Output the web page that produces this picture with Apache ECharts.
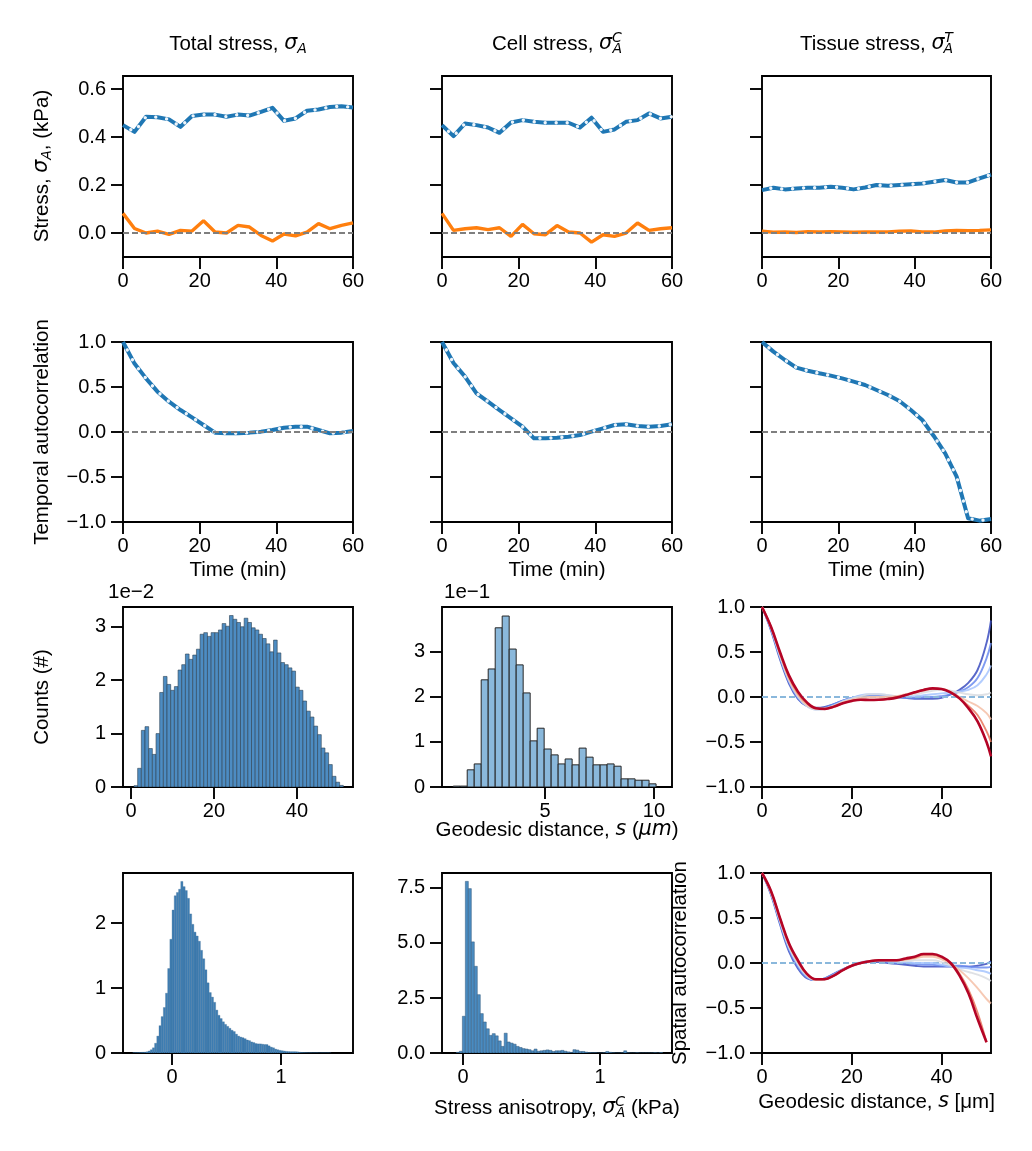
<!DOCTYPE html>
<html><head><meta charset="utf-8">
<script src="https://cdn.jsdelivr.net/npm/echarts@6/dist/echarts.min.js"></script>
<style>html,body{margin:0;padding:0;background:#fff}#c{width:1032px;height:1151px}</style>
</head><body><div id="c"></div>
<script>
// ---------- DATA ----------
const time = [0,3,6,9,12,15,18,21,24,27,30,33,36,39,42,45,48,51,54,57,60];
const totalMean = [0.45,0.422,0.485,0.483,0.474,0.443,0.488,0.494,0.494,0.485,0.494,0.49,0.505,0.522,0.468,0.478,0.51,0.515,0.526,0.529,0.524];
const totalAniso = [0.082,0.019,0.0,0.008,-0.006,0.011,0.008,0.051,0.004,0.0,0.032,0.025,-0.01,-0.033,-0.004,-0.012,0.004,0.039,0.018,0.032,0.042];
const cellMean = [0.45,0.404,0.457,0.45,0.44,0.418,0.461,0.471,0.464,0.46,0.46,0.46,0.44,0.481,0.422,0.432,0.464,0.471,0.499,0.478,0.485];
const cellAniso = [0.082,0.011,0.018,0.022,0.014,0.022,-0.014,0.036,-0.003,-0.007,0.031,0.004,0.0,-0.038,-0.007,-0.014,0.0,0.042,0.011,0.018,0.022];
const tissueMean = [0.179,0.189,0.182,0.186,0.189,0.189,0.193,0.189,0.182,0.19,0.2,0.197,0.2,0.203,0.207,0.214,0.221,0.211,0.211,0.228,0.244];
const tissueAniso = [0.008,0.003,0.004,0.002,0.006,0.004,0.006,0.005,0.003,0.004,0.004,0.005,0.008,0.009,0.005,0.004,0.009,0.011,0.010,0.011,0.013];

const acTotal = [1.0,0.76,0.596,0.448,0.337,0.244,0.163,0.078,-0.007,-0.015,-0.015,-0.007,0.004,0.022,0.048,0.059,0.059,0.022,-0.015,-0.007,0.011];
const acCell = [1.0,0.767,0.615,0.43,0.337,0.244,0.152,0.059,-0.07,-0.07,-0.063,-0.052,-0.033,0.004,0.041,0.078,0.085,0.067,0.059,0.067,0.085];
const acTissue = [1.0,0.893,0.8,0.715,0.681,0.652,0.626,0.596,0.559,0.522,0.467,0.411,0.344,0.244,0.133,-0.044,-0.237,-0.496,-0.959,-0.985,-0.967];

// histogram (x 1e-2 scale)
const histAStart = 0.72, histAWidth = 0.885;
const histA = [0.025,0.35,1.06,1.13,0.72,0.61,1.0,1.77,2.07,1.92,1.81,1.88,2.19,2.29,2.49,2.39,2.47,2.58,2.86,2.89,2.82,2.89,2.89,2.94,3.06,3.01,3.21,3.14,3.08,3.0,3.16,3.08,2.98,2.94,2.86,2.78,2.68,2.53,2.75,2.51,2.33,2.29,2.23,2.17,1.87,1.81,1.61,1.42,1.31,1.14,0.98,0.73,0.64,0.42,0.2,0.09,0.03];
// geodesic distance histogram (x 1e-1 scale)
const histBStart = 0.79, histBWidth = 0.321;
const histB = [0.02,0.02,0.38,0.51,2.37,2.61,3.52,3.78,3.05,2.70,2.08,1.02,1.30,0.84,0.71,0.51,0.62,0.49,0.86,0.66,0.49,0.49,0.51,0.46,0.18,0.18,0.15,0.15,0.07];
// total stress anisotropy histogram
const histCStart = -0.36, histCWidth = 0.02;
const histC = [0.004,0.005,0.006,0.008,0.01,0.012,0.018,0.03,0.05,0.08,0.15,0.26,0.42,0.56,0.7,0.92,1.3,1.75,2.2,2.42,2.47,2.52,2.64,2.56,2.5,2.38,2.14,1.98,1.86,1.8,1.72,1.58,1.45,1.28,1.08,0.93,0.86,0.78,0.66,0.58,0.53,0.48,0.44,0.41,0.38,0.35,0.33,0.29,0.26,0.245,0.235,0.22,0.2,0.19,0.17,0.16,0.145,0.14,0.14,0.135,0.13,0.13,0.11,0.09,0.08,0.06,0.05,0.04,0.035,0.03,0.025,0.022,0.02,0.02,0.02,0.018,0.012,0.008,0.006,0.005,0.004,0.004,0.003,0.003,0.003,0.002,0.002,0.002,0.002,0.002,0.001];
// cell stress anisotropy histogram
const histDStart = -0.048, histDWidth = 0.0218;
const histD = [0.03,0.08,1.67,7.8,7.47,5.05,3.94,2.65,1.79,1.41,1.1,0.8,0.88,0.78,0.55,0.3,0.9,0.5,0.45,0.4,0.3,0.25,0.2,0.18,0.15,0.1,0.18,0.08,0.1,0.12,0.14,0.12,0.07,0.1,0.1,0.12,0.08,0.05,0.03,0.15,0.13,0.07,0.07,0.04,0.02,0.01,0.01,0,0,0.01,0.07,0.03,0.01,0,0,0.01,0.1,0.01,0,0,0.01,0,0,0,0,0,0.01,0,0.02];

// spatial autocorrelation vs geodesic distance
const geoDist = [0,2,4,6,8,10,12,14,16,18,20,22,24,26,28,30,32,34,36,38,40,42,44,46,48,50,51];
const spatialTotal = [
 [1.0,0.74,0.42,0.15,-0.02,-0.1,-0.12,-0.11,-0.08,-0.04,-0.01,0.01,0.02,0.02,0.01,0.0,-0.01,-0.02,-0.02,-0.02,-0.01,0.03,0.08,0.16,0.3,0.6,0.85],
 [1.0,0.75,0.44,0.17,-0.01,-0.1,-0.13,-0.12,-0.08,-0.04,-0.01,0.01,0.02,0.02,0.01,0.0,-0.01,-0.01,0.0,0.0,0.01,0.03,0.06,0.11,0.21,0.43,0.6],
 [1.0,0.76,0.45,0.18,0.0,-0.1,-0.14,-0.13,-0.09,-0.05,-0.01,0.02,0.03,0.03,0.02,0.01,0.01,0.01,0.02,0.03,0.04,0.05,0.06,0.08,0.13,0.25,0.35],
 [1.0,0.77,0.46,0.19,0.01,-0.1,-0.14,-0.13,-0.1,-0.05,-0.02,0.01,0.03,0.03,0.02,0.01,0.02,0.03,0.05,0.07,0.08,0.07,0.05,0.03,0.02,0.03,0.05],
 [1.0,0.78,0.48,0.2,0.02,-0.09,-0.13,-0.13,-0.1,-0.06,-0.03,-0.01,0.0,0.0,0.0,0.01,0.03,0.05,0.07,0.09,0.09,0.06,0.0,-0.05,-0.1,-0.18,-0.25],
 [1.0,0.78,0.49,0.22,0.04,-0.07,-0.12,-0.13,-0.11,-0.07,-0.04,-0.03,-0.03,-0.03,-0.02,0.0,0.02,0.05,0.08,0.09,0.09,0.05,-0.02,-0.1,-0.2,-0.38,-0.5],
 [1.0,0.78,0.5,0.24,0.06,-0.06,-0.126,-0.133,-0.107,-0.07,-0.044,-0.03,-0.033,-0.03,-0.022,-0.007,0.022,0.052,0.078,0.096,0.089,0.052,-0.015,-0.126,-0.27,-0.5,-0.66]
];
const spatialCell = [
 [1.0,0.76,0.43,0.13,-0.06,-0.17,-0.19,-0.17,-0.12,-0.07,-0.03,0.0,0.01,0.01,0.0,-0.01,-0.02,-0.03,-0.04,-0.04,-0.04,-0.04,-0.04,-0.04,-0.03,-0.01,0.02],
 [1.0,0.77,0.45,0.15,-0.04,-0.16,-0.19,-0.17,-0.12,-0.07,-0.03,0.0,0.02,0.02,0.01,0.0,0.0,-0.01,-0.02,-0.02,-0.03,-0.03,-0.03,-0.04,-0.05,-0.05,-0.04],
 [1.0,0.78,0.46,0.17,-0.02,-0.15,-0.19,-0.18,-0.13,-0.07,-0.03,0.01,0.02,0.03,0.02,0.01,0.01,0.0,0.0,0.0,-0.02,-0.04,-0.05,-0.06,-0.08,-0.1,-0.12],
 [1.0,0.78,0.47,0.18,-0.01,-0.14,-0.19,-0.18,-0.14,-0.08,-0.03,0.0,0.02,0.03,0.03,0.02,0.02,0.03,0.03,0.03,0.01,-0.03,-0.07,-0.1,-0.13,-0.17,-0.2],
 [1.0,0.79,0.49,0.2,0.01,-0.13,-0.19,-0.18,-0.14,-0.08,-0.03,0.0,0.02,0.03,0.03,0.03,0.04,0.05,0.07,0.07,0.04,-0.01,-0.08,-0.17,-0.28,-0.4,-0.45],
 [1.0,0.8,0.5,0.21,0.02,-0.12,-0.18,-0.18,-0.14,-0.08,-0.03,0.0,0.02,0.03,0.03,0.03,0.04,0.06,0.09,0.09,0.06,0.0,-0.12,-0.3,-0.55,-0.88,null],
 [1.0,0.8,0.5,0.22,0.03,-0.12,-0.18,-0.18,-0.14,-0.08,-0.03,0.0,0.02,0.03,0.03,0.03,0.05,0.07,0.1,0.1,0.07,0.0,-0.14,-0.34,-0.62,-0.88,null]
];
const curveColors = ['#3b4cc0','#6a8bef','#a6c4fe','#d9dce1','#f5c0a7','#e8765c','#b40426'];

// ---------- LAYOUT ----------
const colLeft = [123, 442, 762], colW = [230, 230, 229];
const rowTop = [76, 342, 607, 873], rowH = [181, 180, 180, 180];
const FONT = 'Liberation Sans';
const TICK = 20;

const grids = [], xAxes = [], yAxes = [], series = [];
function gi(r, c) { return r * 3 + c; }
for (let r = 0; r < 4; r++) for (let c = 0; c < 3; c++) {
  grids.push({left: colLeft[c], top: rowTop[r], width: colW[c], height: rowH[r], show: true,
    borderColor: '#000', borderWidth: 1.9, backgroundColor: 'transparent', containLabel: false, outerBoundsMode: 'none'});
}
const minus = v => String(v).replace('-', '\u2212');
function axis(kind, g, min, max, ticks, fmt, showLabel) {
  return {type: 'value', gridIndex: g, min, max, scale: true,
    axisLine: {show: false, onZero: false}, splitLine: {show: false},
    axisTick: {show: true, inside: false, length: 12, lineStyle: {color: '#000', width: 1.9}, customValues: ticks},
    axisLabel: {show: showLabel !== false, customValues: ticks, formatter: fmt, margin: kind === 'x' ? 14 : 17,
      color: '#000', fontSize: TICK, fontFamily: FONT}};
}
const f1 = v => minus(v.toFixed(1));
const f0 = v => minus(v.toFixed(0));
const timeTicks = [0, 20, 40, 60];
for (let c = 0; c < 3; c++) {
  xAxes.push(axis('x', gi(0, c), 0, 60, timeTicks, f0));
  yAxes.push(axis('y', gi(0, c), -0.1, 0.655, [0, 0.2, 0.4, 0.6], f1, c === 0));
}
for (let c = 0; c < 3; c++) {
  xAxes.push(axis('x', gi(1, c), 0, 60, timeTicks, f0));
  yAxes.push(axis('y', gi(1, c), -1, 1, [-1, -0.5, 0, 0.5, 1], f1, c === 0));
}
xAxes.push(axis('x', gi(2, 0), -1.93, 53.5, [0, 20, 40], f0));
yAxes.push(axis('y', gi(2, 0), 0, 3.37, [0, 1, 2, 3], f0));
xAxes.push(axis('x', gi(2, 1), 0.275, 10.83, [5, 10], f0));
yAxes.push(axis('y', gi(2, 1), 0, 3.98, [0, 1, 2, 3], f0));
xAxes.push(axis('x', gi(2, 2), 0, 51, [0, 20, 40], f0));
yAxes.push(axis('y', gi(2, 2), -1, 1, [-1, -0.5, 0, 0.5, 1], f1));
xAxes.push(axis('x', gi(3, 0), -0.45, 1.66, [0, 1], f0));
yAxes.push(axis('y', gi(3, 0), 0, 2.77, [0, 1, 2], f0));
xAxes.push(axis('x', gi(3, 1), -0.153, 1.525, [0, 1], f0));
yAxes.push(axis('y', gi(3, 1), 0, 8.18, [0, 2.5, 5, 7.5], f1));
xAxes.push(axis('x', gi(3, 2), 0, 51, [0, 20, 40], f0));
yAxes.push(axis('y', gi(3, 2), -1, 1, [-1, -0.5, 0, 0.5, 1], f1));

// ---------- SERIES ----------
function zeroLine(g, color) {
  series.push({type: 'line', xAxisIndex: g, yAxisIndex: g, data: [], z: 1, silent: true,
    markLine: {silent: true, symbol: 'none', label: {show: false}, animation: false,
      lineStyle: {color, type: [6, 3], width: 1.8}, data: [{yAxis: 0}]}});
}
function dashedBlue(g, vals) {
  const d = time.map((t, i) => [t, vals[i]]);
  series.push({type: 'line', xAxisIndex: g, yAxisIndex: g, data: d, showSymbol: false, z: 3, animation: false,
    lineStyle: {color: '#1f77b4', width: 4, cap: 'butt', join: 'round'}});
  series.push({type: 'line', xAxisIndex: g, yAxisIndex: g, data: d, showSymbol: false, z: 4, animation: false,
    lineStyle: {color: '#eef4fa', width: 3.4, type: [0.01, 11], cap: 'round', dashOffset: 2}});
}
function orange(g, vals) {
  series.push({type: 'line', xAxisIndex: g, yAxisIndex: g, data: time.map((t, i) => [t, vals[i]]),
    showSymbol: false, z: 3, animation: false, lineStyle: {color: '#ff7f0e', width: 3.4}});
}
[[totalMean, totalAniso], [cellMean, cellAniso], [tissueMean, tissueAniso]].forEach((p, c) => {
  zeroLine(gi(0, c), '#7f7f7f');
  dashedBlue(gi(0, c), p[0]);
  orange(gi(0, c), p[1]);
});
[acTotal, acCell, acTissue].forEach((a, c) => {
  zeroLine(gi(1, c), '#7f7f7f');
  dashedBlue(gi(1, c), a);
});
function hist(g, start, width, vals, fill, stroke, lw) {
  series.push({type: 'custom', xAxisIndex: g, yAxisIndex: g, clip: true, animation: false,
    data: vals.map((v, i) => [start + i * width, start + (i + 1) * width, v]),
    encode: {x: [0, 1], y: 2},
    renderItem: (params, api) => {
      const a = api.coord([api.value(0), api.value(2)]);
      const b = api.coord([api.value(1), 0]);
      return {type: 'rect', shape: {x: a[0], y: a[1], width: b[0] - a[0], height: b[1] - a[1]},
        style: {fill, stroke, lineWidth: lw}};
    }});
}
hist(gi(2, 0), histAStart, histAWidth, histA, '#4d8cc2', '#2e4152', 0.6);
hist(gi(2, 1), histBStart, histBWidth, histB, '#8ab8db', '#262626', 1);
hist(gi(3, 0), histCStart, histCWidth, histC, '#3f7eb3', '#3a6a93', 0.3);
hist(gi(3, 1), histDStart, histDWidth, histD, '#4a8bc0', '#33597a', 0.5);

function spatial(g, curves) {
  zeroLine(g, '#8ab8dc');
  curves.forEach((cv, k) => {
    series.push({type: 'line', xAxisIndex: g, yAxisIndex: g, smooth: 0.4, showSymbol: false, animation: false,
      z: 3 + k, connectNulls: false,
      data: geoDist.map((x, i) => [x, cv[i]]),
      lineStyle: {color: curveColors[k], width: k === curves.length - 1 ? 2.6 : 1.9, opacity: k === curves.length - 1 ? 1 : 0.85}});
  });
}
spatial(gi(2, 2), spatialTotal);
spatial(gi(3, 2), spatialCell);

// ---------- TEXT ----------
const LBL = 20.5;
const rich = {
  i: {fontStyle: 'italic', fontSize: LBL, fontFamily: 'DejaVu Sans'},
  sub: {fontStyle: 'italic', fontSize: 14, fontFamily: 'DejaVu Sans', padding: [11, 0, 0, 0]},
  sup: {fontStyle: 'italic', fontSize: 14, fontFamily: 'DejaVu Sans', padding: [0, 0, 11, 0]},
  sub2: {fontStyle: 'italic', fontSize: 14, fontFamily: 'DejaVu Sans', padding: [11, 0, 0, -9.5]}
};
function txt(text, x, y, opts) {
  opts = opts || {};
  return {type: 'text', x, y, rotation: opts.rot || 0, silent: true, z: 100,
    style: {text, fill: '#000', fontSize: opts.size || LBL, fontFamily: FONT,
      align: opts.align || 'center', verticalAlign: 'middle', rich}};
}
const colCenter = colLeft.map((l, c) => l + colW[c] / 2);
const graphics = [
  txt('Total stress, {i|σ}{sub|A}', colCenter[0], 44),
  txt('Cell stress, {i|σ}{sup|C}{sub2|A}', colCenter[1], 44),
  txt('Tissue stress, {i|σ}{sup|T}{sub2|A}', colCenter[2], 44),
  txt('Stress, {i|σ}{sub|A}, (kPa)', 42, 166, {rot: Math.PI / 2}),
  txt('Temporal autocorrelation', 42, 432, {rot: Math.PI / 2}),
  txt('Counts (#)', 42, 697, {rot: Math.PI / 2}),
  txt('Spatial autocorrelation', 680, 963, {rot: Math.PI / 2}),
  txt('Time (min)', colCenter[0], 570),
  txt('Time (min)', colCenter[1], 570),
  txt('Time (min)', colCenter[2], 570),
  txt('1e\u22122', 108, 592, {align: 'left'}),
  txt('1e\u22121', 444, 592, {align: 'left'}),
  txt('Geodesic distance, {i|s} ({i|μm})', colCenter[1], 830),
  txt('Stress anisotropy, {i|σ}{sup|C}{sub2|A} (kPa)', colCenter[1], 1108),
  txt('Geodesic distance, {i|s} [μm]', colCenter[2], 1102)
];

const chart = echarts.init(document.getElementById('c'), null, {renderer: 'canvas'});
chart.setOption({animation: false, backgroundColor: '#fff', grid: grids, xAxis: xAxes, yAxis: yAxes, series, graphic: graphics});
</script></body></html>
